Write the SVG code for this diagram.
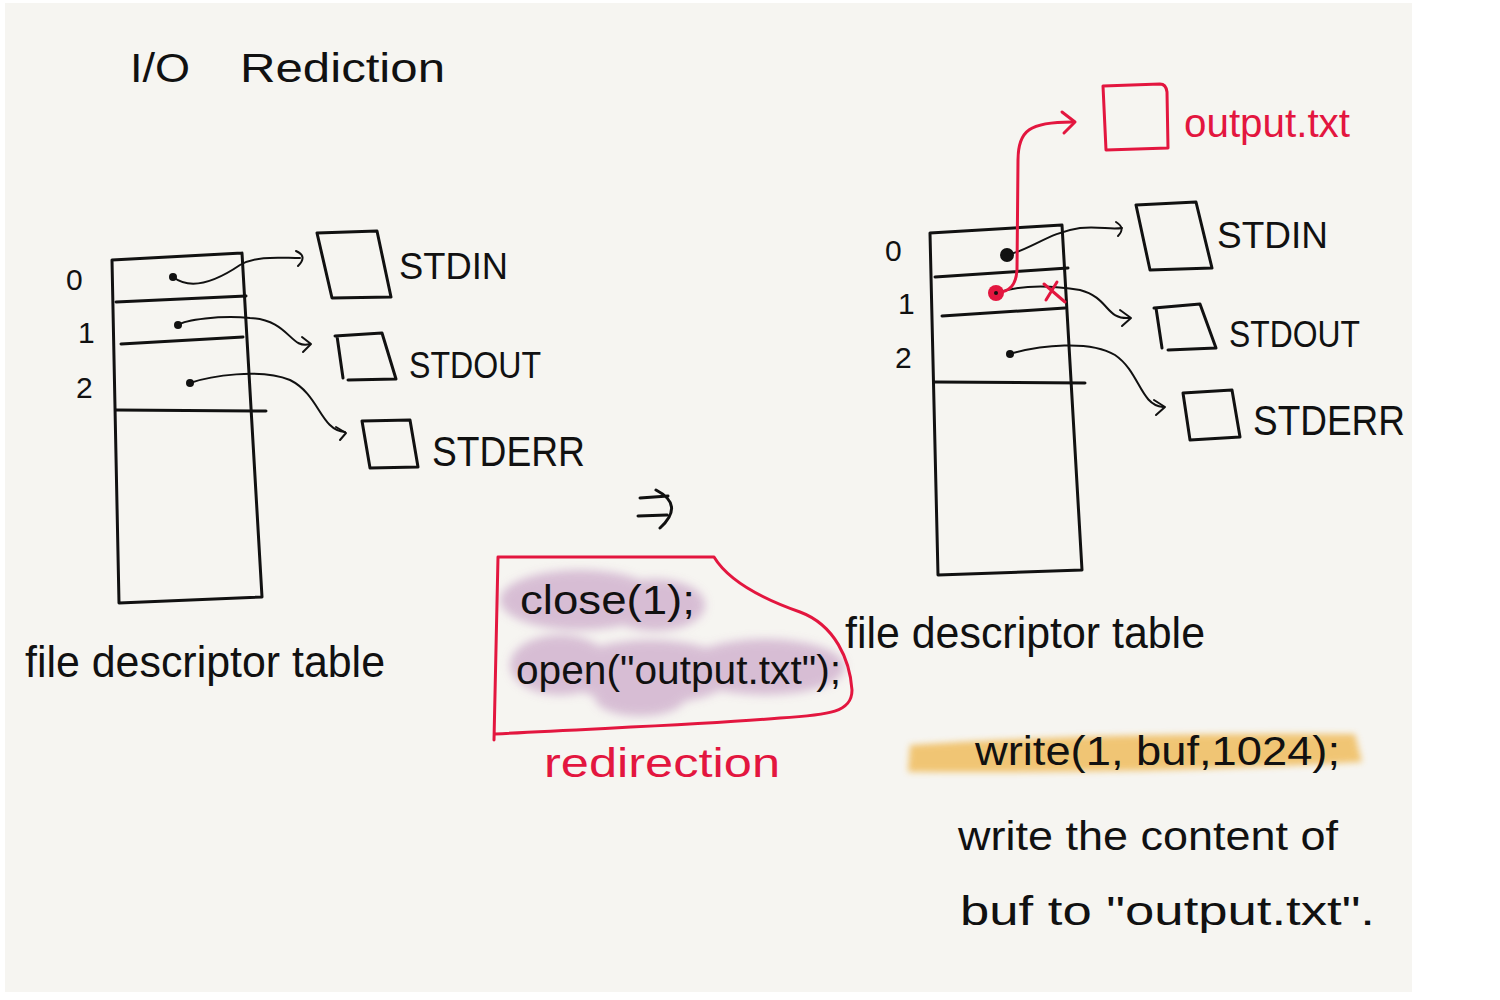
<svg xmlns="http://www.w3.org/2000/svg" width="1500" height="1000" viewBox="0 0 1500 1000">
<defs>
<style>
.ink{fill:none;stroke:#111;stroke-width:3;stroke-linecap:round;stroke-linejoin:round}
.thin{fill:none;stroke:#111;stroke-width:2;stroke-linecap:round;stroke-linejoin:round}
.red{fill:none;stroke:#e3163f;stroke-width:3;stroke-linecap:round;stroke-linejoin:round}
.t{font-family:"Liberation Sans","DejaVu Sans",sans-serif;fill:#111}
.tr{font-family:"Liberation Sans","DejaVu Sans",sans-serif;fill:#e3163f}
</style>
<filter id="blur" x="-20%" y="-50%" width="140%" height="200%"><feGaussianBlur stdDeviation="5"/></filter>
<filter id="blur2" x="-10%" y="-50%" width="120%" height="200%"><feGaussianBlur stdDeviation="3"/></filter>
</defs>
<rect width="1500" height="1000" fill="#ffffff"/>
<rect x="5" y="3" width="1407" height="989" fill="#f6f5f1"/>

<g id="title">
<text class="t" x="130" y="82" font-size="40" textLength="60" lengthAdjust="spacingAndGlyphs">I/O</text>
<text class="t" x="240" y="82" font-size="40" textLength="205" lengthAdjust="spacingAndGlyphs">Rediction</text>
</g>

<g id="left-table">
<path class="ink" d="M112,260 L242,253 M112,260 L119,603 L262,597 L242,253"/>
<path class="ink" d="M116,302 L246,296 M121,344 L243,337 M116,410 L266,411"/>
<text class="t" x="66" y="290" font-size="30">0</text>
<text class="t" x="78" y="343" font-size="30">1</text>
<text class="t" x="76" y="398" font-size="30">2</text>
<circle cx="173" cy="277" r="4" fill="#111"/>
<circle cx="178" cy="325" r="4" fill="#111"/>
<circle cx="190" cy="383" r="4" fill="#111"/>
</g>

<g id="left-boxes">
<path class="ink" d="M317,233 L377,231 L391,297 L332,298 Z"/>
<path class="ink" d="M335,336 L382,333 L396,379 L348,380 M337,336 L343,378"/>
<path class="ink" d="M362,421 L410,420 L418,467 L370,468 Z"/>
<text class="t" x="399" y="279" font-size="36" textLength="109" lengthAdjust="spacingAndGlyphs">STDIN</text>
<text class="t" x="409" y="378" font-size="36" textLength="132" lengthAdjust="spacingAndGlyphs">STDOUT</text>
<text class="t" x="432" y="466" font-size="42" textLength="153" lengthAdjust="spacingAndGlyphs">STDERR</text>
</g>

<g id="right-table">
<path class="ink" d="M930,233 L1062,225 M930,233 L938,575 L1082,570 L1062,225"/>
<path class="ink" d="M935,277 L1068,268 M942,316 L1065,308 M935,382 L1085,383"/>
<text class="t" x="885" y="261" font-size="30">0</text>
<text class="t" x="898" y="314" font-size="30">1</text>
<text class="t" x="895" y="368" font-size="30">2</text>
<circle cx="1007" cy="255" r="7" fill="#111"/>
<circle cx="1010" cy="354" r="4" fill="#111"/>
</g>

<g id="right-boxes">
<path class="ink" d="M1136,205 L1196,202 L1212,268 L1150,270 Z"/>
<path class="ink" d="M1154,308 L1200,304 L1216,348 L1168,350 M1156,308 L1162,348"/>
<path class="ink" d="M1183,393 L1232,390 L1240,437 L1190,440 Z"/>
<text class="t" x="1217" y="248" font-size="36" textLength="111" lengthAdjust="spacingAndGlyphs">STDIN</text>
<text class="t" x="1229" y="347" font-size="36" textLength="131" lengthAdjust="spacingAndGlyphs">STDOUT</text>
<text class="t" x="1253" y="435" font-size="42" textLength="152" lengthAdjust="spacingAndGlyphs">STDERR</text>
</g>

<g id="output-file">
<path class="red" d="M1103,86 L1160,84 Q1166,84 1167,92 L1168,148 L1106,150 M1103,86 L1106,150"/>
<text class="tr" x="1184" y="137" font-size="40" textLength="166" lengthAdjust="spacingAndGlyphs">output.txt</text>
</g>

<g id="connectors">
<path class="thin" d="M173,277 C190,290 215,282 240,265 C258,255 280,258 300,258"/>
<path class="thin" d="M296,251 Q308,256 298,266"/>
<path class="thin" d="M178,325 C185,320 220,315 250,318 C290,320 290,350 310,344"/>
<path class="thin" d="M302,337 L311,344 L303,352"/>
<path class="thin" d="M190,383 C210,376 260,368 290,380 C320,395 320,430 345,432"/>
<path class="thin" d="M336,427 L346,433 L340,440"/>
<path class="thin" d="M1007,255 C1030,250 1050,232 1080,228 C1100,226 1110,230 1122,228"/>
<path class="thin" d="M1116,222 Q1126,228 1118,236"/>
<path class="thin" d="M996,293 C1020,285 1050,285 1080,290 C1110,298 1105,320 1130,318"/>
<path class="thin" d="M1120,310 L1131,318 L1122,326"/>
<path class="thin" d="M1010,354 C1040,345 1090,340 1115,355 C1140,372 1140,405 1163,407"/>
<path class="thin" d="M1154,400 L1165,407 L1156,415"/>
<path class="red" d="M996,293 C1010,292 1016,285 1017,270 L1018,160 C1018,130 1030,122 1072,122"/>
<path class="red" d="M1062,112 L1075,122 L1064,133"/>
<path class="red" d="M1044,284 L1065,302 M1057,282 L1046,300" stroke-width="2.5"/>
<circle cx="996" cy="293" r="8" fill="#e3163f"/>
<circle cx="996" cy="293" r="2" fill="#111"/>
</g>

<g id="transition-arrow">
<path class="ink" d="M640,498 L668,496 M638,516 L667,515 M656,490 Q685,505 660,528"/>
</g>

<g id="redirection-box">
<g filter="url(#blur)" fill="#d4b8d1" opacity="0.9">
<ellipse cx="580" cy="600" rx="80" ry="30"/>
<ellipse cx="655" cy="605" rx="50" ry="26"/>
<ellipse cx="560" cy="665" rx="50" ry="30"/>
<ellipse cx="650" cy="672" rx="85" ry="32"/>
<ellipse cx="765" cy="667" rx="80" ry="28"/>
<ellipse cx="640" cy="698" rx="45" ry="18"/>
</g>
<path class="red" d="M498,557 L714,557 C728,580 760,598 800,612 C835,625 850,660 852,690 C852,712 830,715 780,718 C700,725 600,728 495,734 M498,557 L494,740"/>
<text class="t" x="520" y="614" font-size="40" textLength="175" lengthAdjust="spacingAndGlyphs">close(1);</text>
<text class="t" x="516" y="684" font-size="40" textLength="325" lengthAdjust="spacingAndGlyphs">open("output.txt");</text>
<text class="tr" x="544" y="777" font-size="40" textLength="236" lengthAdjust="spacingAndGlyphs">redirection</text>
</g>

<g id="left-caption"><text class="t" x="25" y="677" font-size="44" textLength="360" lengthAdjust="spacingAndGlyphs">file descriptor table</text></g>
<g id="right-caption"><text class="t" x="845" y="648" font-size="44" textLength="360" lengthAdjust="spacingAndGlyphs">file descriptor table</text></g>

<g id="write-note">
<path d="M910,745 Q1100,732 1355,734 L1362,762 Q1150,774 908,772 Z" fill="#f0bd5e" opacity="0.85" filter="url(#blur2)"/>
<text class="t" x="975" y="765" font-size="40" textLength="365" lengthAdjust="spacingAndGlyphs">write(1, buf,1024);</text>
<text class="t" x="958" y="850" font-size="40" textLength="380" lengthAdjust="spacingAndGlyphs">write the content of</text>
<text class="t" x="960" y="925" font-size="40" textLength="415" lengthAdjust="spacingAndGlyphs">buf to "output.txt".</text>
</g>
</svg>
